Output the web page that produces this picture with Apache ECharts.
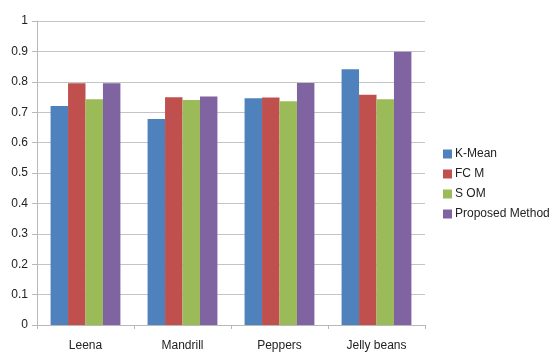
<!DOCTYPE html>
<html>
<head>
<meta charset="utf-8">
<script src="https://cdn.jsdelivr.net/npm/echarts@6/dist/echarts.min.js"></script>
<style>
  html, body { margin: 0; padding: 0; background: #fff; }
  #chart { width: 556px; height: 352px; }
</style>
</head>
<body>
<div id="chart"></div>
<script>
// Images compared
const categories = ['Leena', 'Mandrill', 'Peppers', 'Jelly beans'];

// Scores per method
const kMean    = [0.720, 0.678, 0.746, 0.841];
const fcm      = [0.795, 0.749, 0.748, 0.757];
const som      = [0.743, 0.740, 0.736, 0.743];
const proposed = [0.795, 0.752, 0.796, 0.899];

const seriesNames = ['K-Mean', 'FC M', 'S OM', 'Proposed Method'];
const seriesColors = ['#4F81BD', '#C0504D', '#9BBB59', '#8064A2'];
const seriesValues = [kMean, fcm, som, proposed];

const chart = echarts.init(document.getElementById('chart'), null, { renderer: 'canvas' });

const font = 'Liberation Sans, Arial, sans-serif';

chart.setOption({
  animation: false,
  backgroundColor: '#ffffff',
  textStyle: { fontFamily: font },
  grid: { left: 37, right: 131, top: 21, bottom: 27, containLabel: false },
  legend: {
    orient: 'vertical',
    left: 441,
    top: 146,
    padding: 2,
    itemWidth: 9,
    itemHeight: 9,
    itemGap: 8,
    icon: 'rect',
    textStyle: { fontSize: 12, color: '#222', fontFamily: font, padding: [0, 0, 0, -2] },
    data: seriesNames
  },
  xAxis: {
    type: 'category',
    data: categories,
    axisLine: { lineStyle: { color: '#b8b8b8', width: 1 } },
    axisTick: { show: true, length: 4, lineStyle: { color: '#b8b8b8' } },
    axisLabel: { fontSize: 12, color: '#222', margin: 15, fontFamily: font },
    splitLine: { show: false }
  },
  yAxis: {
    type: 'value',
    min: 0,
    max: 1,
    interval: 0.1,
    axisLine: { show: true, lineStyle: { color: '#b8b8b8', width: 1 } },
    axisTick: { show: true, length: 5, lineStyle: { color: '#b8b8b8' } },
    axisLabel: { fontSize: 12, color: '#222', margin: 9, fontFamily: font },
    splitLine: { show: true, lineStyle: { color: '#c4c4c4', width: 1 } }
  },
  series: seriesNames.map((name, i) => ({
    name: name,
    type: 'bar',
    data: seriesValues[i],
    barGap: '0%',
    barCategoryGap: '28%',
    itemStyle: { color: seriesColors[i] }
  }))
});
</script>
</body>
</html>
